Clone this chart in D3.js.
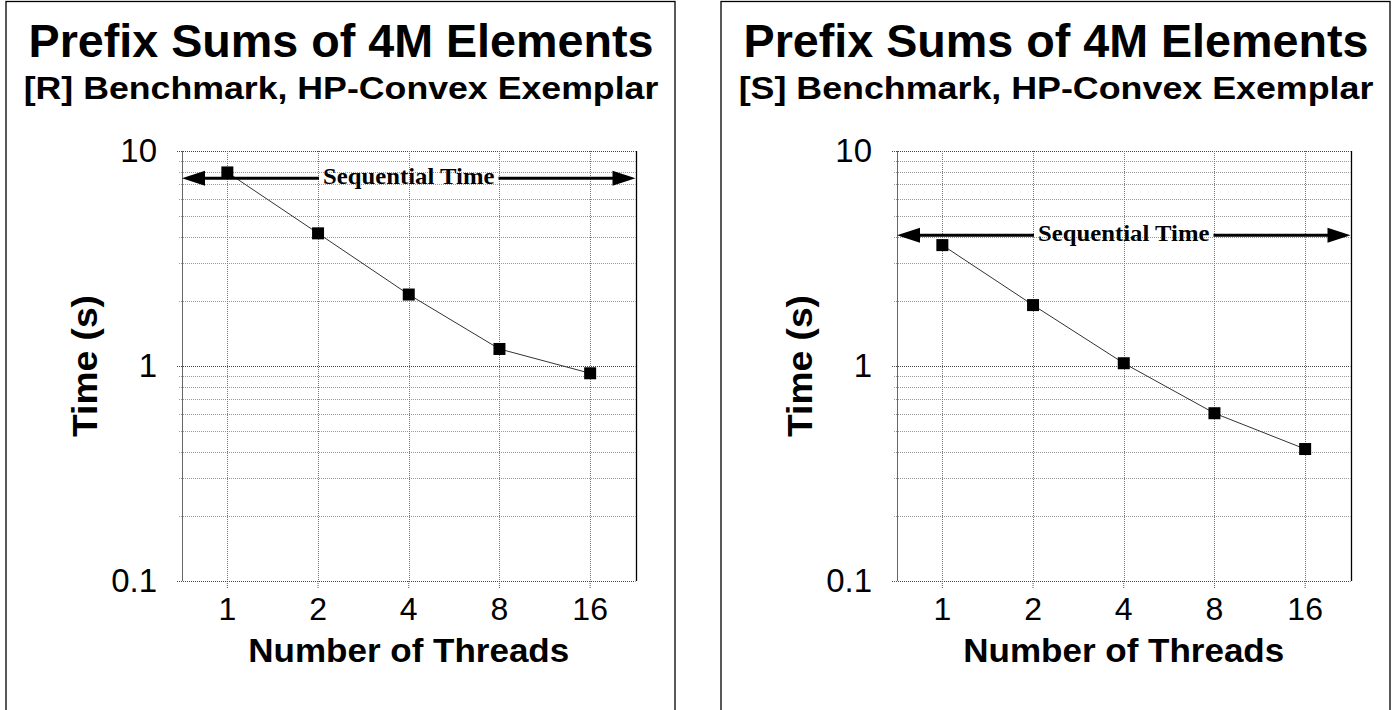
<!DOCTYPE html>
<html>
<head>
<meta charset="utf-8">
<script src="https://cdn.jsdelivr.net/npm/d3@7"></script>
<style>
  html, body { margin: 0; padding: 0; background: #fff; }
  svg { display: block; }
</style>
</head>
<body>
<svg id="chart" width="1397" height="710"></svg>
<script>
// ---- data ----
const threads = ["1", "2", "4", "8", "16"];
const timeR = [7.95, 4.14, 2.15, 1.2, 0.925];
const timeS = [3.65, 1.92, 1.03, 0.603, 0.411];
const seqTimes = [7.47, 4.06];
const panelTitles = ["Prefix Sums of 4M Elements", "Prefix Sums of 4M Elements"];
const panelSubtitles = ["[R] Benchmark, HP-Convex Exemplar", "[S] Benchmark, HP-Convex Exemplar"];
const yTickValues = [0.1, 1, 10];
const yTickLabels = ["0.1", "1", "10"];
const xAxisTitle = "Number of Threads";
const yAxisTitle = "Time (s)";
const seqLabel = "Sequential Time";

const svg = d3.select("#chart");
svg.append("rect").attr("width", 1397).attr("height", 710).attr("fill", "#fff");

// text drawn at a given font size, stretched horizontally to a target width
function stretchedText(parent, str, cx, baseY, fs, target, family, weight, rotate) {
  const g = parent.append("g");
  const t = g.append("text").text(str)
    .attr("x", 0).attr("y", 0).attr("text-anchor", "middle")
    .attr("font-family", family).attr("font-weight", weight)
    .attr("font-size", fs).attr("fill", "#000");
  const w = t.node().getComputedTextLength();
  const sx = target / w;
  g.attr("transform", `translate(${cx},${baseY})${rotate ? " rotate(-90)" : ""} scale(${sx.toFixed(4)},1)`);
  return { g, width: target };
}

const SANS = "Liberation Sans, Arial, sans-serif";
const SERIF = "Liberation Serif, Times New Roman, serif";

function drawPanel(ox, title, subtitle, values, seq) {
  const g = svg.append("g");
  // panel border
  g.append("rect")
    .attr("x", ox + 0.5).attr("y", 1.5)
    .attr("width", 669).attr("height", 730)
    .attr("fill", "none").attr("stroke", "#000").attr("stroke-width", 1.3);

  const x0 = ox + 176.5, x1 = x0 + 453.5;
  const yTop = 151, yBot = 581;
  const x = d3.scaleBand().domain(threads).range([x0, x1]);
  const y = d3.scaleLog().domain([0.1, 10]).range([yBot, yTop]);
  const cx = d => x(d) + x.bandwidth() / 2;

  // titles
  stretchedText(g, title, ox + 335.5, 57, 46.7, 625, SANS, "bold");
  stretchedText(g, subtitle, ox + 335.5, 99, 30.5, 635, SANS, "bold");

  // horizontal grid
  const gridVals = y.ticks();
  const isMajor = d => yTickValues.includes(+d.toPrecision(3));
  g.append("g").selectAll("line").data(gridVals).join("line")
    .attr("x1", d => isMajor(d) ? x0 - 5 : x0 - 3)
    .attr("x2", x1)
    .attr("y1", d => Math.round(y(d)) + 0.5).attr("y2", d => Math.round(y(d)) + 0.5)
    .attr("stroke", d => isMajor(d) ? "#444" : "#999")
    .attr("stroke-width", 1)
    .attr("stroke-dasharray", "1,1");

  // vertical grid
  g.append("g").selectAll("line").data(threads).join("line")
    .attr("x1", d => Math.round(cx(d)) + 0.5).attr("x2", d => Math.round(cx(d)) + 0.5)
    .attr("y1", yTop).attr("y2", yBot)
    .attr("stroke", "#777").attr("stroke-width", 1).attr("stroke-dasharray", "1,1");

  // y axis labels
  const yAxis = d3.axisLeft(y).tickValues(yTickValues)
    .tickFormat((d, i) => yTickLabels[i]).tickSize(0).tickPadding(25);
  const ya = g.append("g").attr("transform", `translate(${x0},0)`).call(yAxis);
  ya.select(".domain").remove();
  ya.selectAll("text").attr("font-family", SANS)
    .attr("font-size", 33).attr("fill", "#000");

  // x axis
  const xAxis = d3.axisBottom(x).tickSize(8).tickPadding(8);
  const xa = g.append("g").attr("transform", `translate(0,${yBot})`).call(xAxis);
  xa.select(".domain").remove();
  xa.selectAll(".tick line").attr("stroke", "#555").attr("stroke-dasharray", "1,1");
  xa.selectAll("text").attr("font-family", SANS)
    .attr("font-size", 32).attr("fill", "#000");

  // frame lines
  g.append("line").attr("x1", Math.round(x0) + 0.5).attr("x2", Math.round(x0) + 0.5)
    .attr("y1", yTop).attr("y2", yBot).attr("stroke", "#666").attr("stroke-width", 1);
  g.append("line").attr("x1", Math.round(x1) + 0.5).attr("x2", Math.round(x1) + 0.5)
    .attr("y1", yTop).attr("y2", yBot).attr("stroke", "#000").attr("stroke-width", 1.3);

  // axis titles
  stretchedText(g, xAxisTitle, (x0 + x1) / 2, 662, 33, 321, SANS, "bold");
  stretchedText(g, yAxisTitle, ox + 91, (yTop + yBot) / 2, 35, 142, SANS, "bold", true);

  // series line
  const pts = threads.map((t, i) => ({ t, v: values[i] }));
  g.append("path").datum(pts)
    .attr("d", d3.line().x(d => cx(d.t)).y(d => y(d.v)))
    .attr("fill", "none").attr("stroke", "#333").attr("stroke-width", 1);
  g.append("g").selectAll("rect").data(pts).join("rect")
    .attr("x", d => cx(d.t) - 6).attr("y", d => y(d.v) - 6)
    .attr("width", 12).attr("height", 12).attr("fill", "#000");

  // sequential time arrow
  const ay = y(seq);
  const tw = 171.5;
  stretchedText(g, seqLabel, (x0 + x1) / 2, ay + 6, 23, tw, SERIF, "bold");
  const tl = (x0 + x1) / 2 - tw / 2 - 4, tr = (x0 + x1) / 2 + tw / 2 + 4;
  const head = 23, hh = 7.5;
  g.append("line").attr("x1", x0 + head - 2).attr("x2", tl).attr("y1", ay).attr("y2", ay)
    .attr("stroke", "#000").attr("stroke-width", 3);
  g.append("line").attr("x1", tr).attr("x2", x1 - head + 2).attr("y1", ay).attr("y2", ay)
    .attr("stroke", "#000").attr("stroke-width", 3);
  g.append("path").attr("d", `M${x0},${ay}L${x0 + head},${ay - hh}L${x0 + head},${ay + hh}Z`).attr("fill", "#000");
  g.append("path").attr("d", `M${x1},${ay}L${x1 - head},${ay - hh}L${x1 - head},${ay + hh}Z`).attr("fill", "#000");
}

drawPanel(5.5, panelTitles[0], panelSubtitles[0], timeR, seqTimes[0]);
drawPanel(720.5, panelTitles[1], panelSubtitles[1], timeS, seqTimes[1]);
</script>
</body>
</html>
